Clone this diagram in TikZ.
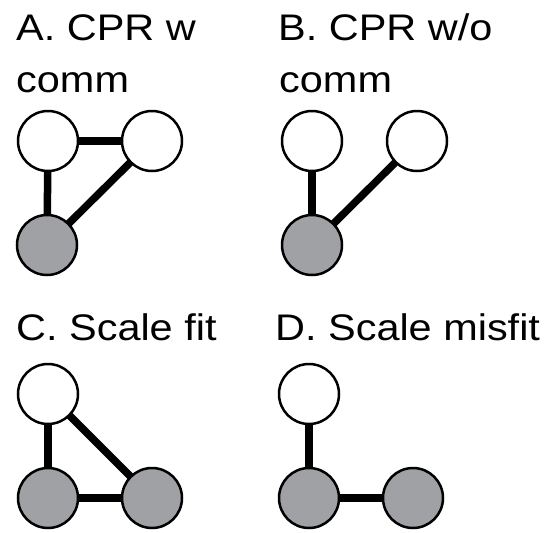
\documentclass[tikz,border=0pt]{standalone}
\usepackage{fontspec}
\setmainfont{Liberation Sans}
\definecolor{nodegrey}{RGB}{160,161,164}
\begin{document}
\begin{tikzpicture}[x=1pt,y=-1pt,
  agent/.style={circle,draw=black,line width=2.5pt,minimum size=60pt,inner sep=0pt,outer sep=0pt,fill=white},
  res/.style={agent,fill=nodegrey},
  link/.style={line width=7.5pt,black},
  lbl/.style={anchor=base west,inner sep=0pt,xscale=1.12,font=\fontsize{37}{44}\selectfont}]
\useasboundingbox[fill=white] (0,0) rectangle (552,533);
% labels
\node[lbl] (ta1) at (16,40) {A. CPR w};
\node[lbl] (ta2) at (16,92) {comm};
\node[lbl] (tb1) at (278,40) {B. CPR w/o};
\node[lbl] (tb2) at (279,92) {comm};
\node[lbl] (tc) at (16,340) {C. Scale fit};
\node[lbl] (td) at (275,340) {D. Scale misfit};
% A
\node[agent] (a1) at (48,141) {};
\node[agent] (a2) at (152,141) {};
\node[res] (a3) at (47,245) {};
\draw[link] (a1) -- (a2);
\draw[link] (a1) -- (a3);
\draw[link] (a2) -- (a3);
% B
\node[agent] (b1) at (312,141) {};
\node[agent] (b2) at (417,141) {};
\node[res] (b3) at (312,245) {};
\draw[link] (b1) -- (b3);
\draw[link] (b2) -- (b3);
% C
\node[agent] (c1) at (48,394) {};
\node[res] (c2) at (48,498) {};
\node[res] (c3) at (152,498) {};
\draw[link] (c1) -- (c2);
\draw[link] (c1) -- (c3);
\draw[link] (c2) -- (c3);
% D
\node[agent] (d1) at (309,394) {};
\node[res] (d2) at (309,498) {};
\node[res] (d3) at (413,498) {};
\draw[link] (d1) -- (d2);
\draw[link] (d2) -- (d3);
\end{tikzpicture}
\end{document}
